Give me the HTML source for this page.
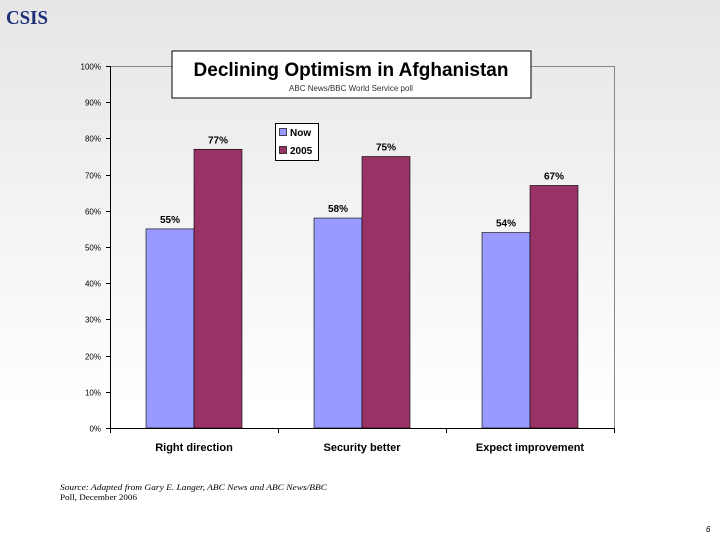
<!DOCTYPE html>
<html><head><meta charset="utf-8"><style>
body{margin:0;width:720px;height:540px;overflow:hidden;font-family:"Liberation Sans",sans-serif;background:linear-gradient(#e6e6e6,#ffffff 75%);}
svg{position:absolute;left:0;top:0}
</style></head><body>
<svg width="720" height="540">
<text x="6" y="24" font-family="Liberation Serif" font-weight="bold" font-size="20" fill="#1f2f7a" textLength="42" lengthAdjust="spacingAndGlyphs">CSIS</text>
<g id="plot"></g>
<g>
<rect x="172" y="51" width="359" height="47" fill="#fff" stroke="#000" stroke-width="1"/>
<text x="351" y="76" text-anchor="middle" font-weight="bold" font-size="19">Declining Optimism in Afghanistan</text>
<text x="351" y="91" text-anchor="middle" font-size="8" fill="#333">ABC News/BBC World Service poll</text>
</g>
<g>
<rect x="275.5" y="123.5" width="43" height="37" fill="#fff" stroke="#000"/>
<rect x="279.5" y="128.5" width="7" height="7" fill="#9999ff" stroke="#000" stroke-width="0.7"/>
<text x="290" y="136" font-size="10" font-weight="bold">Now</text>
<rect x="279.5" y="146.5" width="7" height="7" fill="#993366" stroke="#000" stroke-width="0.7"/>
<text x="290" y="154" font-size="10" font-weight="bold">2005</text>
</g>
<text x="60" y="490" font-family="Liberation Serif" font-size="8" font-style="italic" textLength="267" lengthAdjust="spacingAndGlyphs">Source: Adapted from Gary E. Langer, ABC News and ABC News/BBC</text>
<text x="60" y="500" font-family="Liberation Serif" font-size="8" textLength="77" lengthAdjust="spacingAndGlyphs">Poll, December 2006</text>
<text x="706" y="532" font-size="8" font-style="italic">6</text>
</svg>
<script>
const categories=["Right direction","Security better","Expect improvement"];
const nowValues=[55,58,54];
const y2005Values=[77,75,67];
const yTicks=[0,10,20,30,40,50,60,70,80,90,100];
const NS="http://www.w3.org/2000/svg";
const g=document.getElementById('plot');
const X0=110,X1=614,Y0=428,Y1=66;
const y=v=>Y0-(v/100)*(Y0-Y1);
const cw=(X1-X0)/categories.length;
function el(t,a,txt){const e=document.createElementNS(NS,t);for(const k in a)e.setAttribute(k,a[k]);if(txt!==undefined)e.textContent=txt;g.appendChild(e);return e;}
let b=el('path',{d:`M${X0} ${Y1}.5H${X1}.5V${Y0}`,fill:'none',stroke:'#888'});


yTicks.forEach(t=>{
 const yy=Math.round(y(t))+0.5;
 let l=el('line',{x1:X0-4,x2:X0,y1:yy,y2:yy,stroke:'#000'});
 
 
 let tx=el('text',{x:X0-9,y:yy+3,'text-anchor':'end','font-size':8},t+'%');
 
 
});
categories.forEach((c,i)=>{
 const cx=X0+cw*(i+0.5);
 [[nowValues[i],'#9999ff',-48],[y2005Values[i],'#993366',0]].forEach(([v,col,off],j)=>{
  const r=el('rect',{x:cx+off,y:y(v),width:48,height:Y0-y(v),fill:col,stroke:'#000','stroke-width':0.6});
  
  
  const t=el('text',{x:cx+off+24,y:y(v)-6,'text-anchor':'middle','font-size':10,'font-weight':'bold'},v+'%');
  
  
 });
 const lab=el('text',{x:cx,y:451,'text-anchor':'middle','font-size':11,'font-weight':'bold'},c);
 
 
});
for(let i=0;i<=categories.length;i++){const xx=Math.round(X0+cw*i)+0.5;
 let tk=el('line',{x1:xx,x2:xx,y1:Y0,y2:Y0+5,stroke:'#000'});
 
 }
let ya=el('line',{x1:X0+0.5,x2:X0+0.5,y1:Y1,y2:Y0,stroke:'#000'});


let xa=el('line',{x1:X0,x2:X1,y1:Y0+0.5,y2:Y0+0.5,stroke:'#000'});


</script>
</body></html>
